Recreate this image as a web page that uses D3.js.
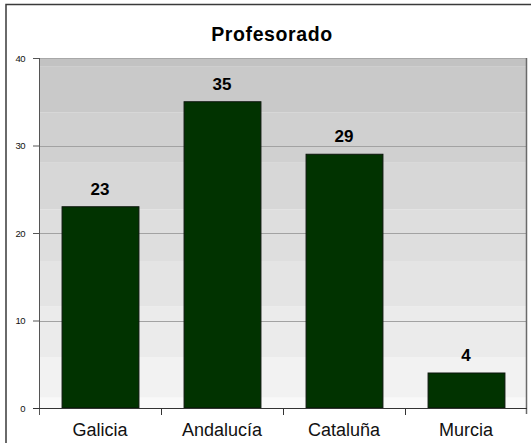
<!DOCTYPE html>
<html>
<head>
<meta charset="utf-8">
<script src="https://cdn.jsdelivr.net/npm/d3@7"></script>
<style>
  body { margin: 0; background: #fff; }
  text { font-family: "Liberation Sans", Arial, sans-serif; }
</style>
</head>
<body>
<div id="chart"></div>
<script>
// Chart data
const title = "Profesorado";
const categories = ["Galicia", "Andalucía", "Cataluña", "Murcia"];
const values = [23, 35, 29, 4];
const yTicks = [0, 10, 20, 30, 40];

// Background shading steps (value breaks, bottom to top)
const shadeBreaks = [0, 1.2, 5.8, 11.6, 16.8, 22.7, 28.1, 33.8, 39, 40];

const W = 531, H = 443;
const margin = {top: 58, right: 4, bottom: 35, left: 39};
const width = W - margin.left - margin.right;
const height = H - margin.top - margin.bottom;

const svg = d3.select("#chart")
    .append("svg")
    .attr("width", W)
    .attr("height", H);

// Outer frame (runs off the right and bottom edges)
svg.append("rect")
    .attr("x", 6)
    .attr("y", 4.5)
    .attr("width", 600)
    .attr("height", 600)
    .attr("fill", "none")
    .attr("stroke", "#3a3a3a")
    .attr("stroke-width", 1.5);

// Title
svg.append("text")
    .attr("x", 272)
    .attr("y", 41)
    .attr("text-anchor", "middle")
    .attr("font-size", 19.5)
    .attr("font-weight", "bold")
    .attr("letter-spacing", 0.6)
    .text(title);

const g = svg.append("g")
    .attr("transform", `translate(${margin.left},${margin.top})`);

// Scales
const x = d3.scaleBand()
    .domain(categories)
    .range([0, width])
    .paddingInner(0.37)
    .paddingOuter(0.185);

const y = d3.scaleLinear()
    .domain([0, 40])
    .range([height, 0]);

// Shaded background bands
const shade = d3.scaleLinear()
    .domain([0, shadeBreaks.length - 2])
    .range(["#f9f9f9", "#c2c2c2"]);

g.selectAll("rect.band")
    .data(d3.pairs(shadeBreaks))
    .enter().append("rect")
    .attr("class", "band")
    .attr("x", 0)
    .attr("width", width)
    .attr("y", d => y(d[1]))
    .attr("height", d => y(d[0]) - y(d[1]))
    .attr("fill", (d, i) => shade(i));

// Gridlines
g.selectAll("line.grid")
    .data(yTicks.filter(t => t > 0 && t < 40))
    .enter().append("line")
    .attr("class", "grid")
    .attr("x1", 0)
    .attr("x2", width)
    .attr("y1", d => Math.round(y(d)) + 0.5)
    .attr("y2", d => Math.round(y(d)) + 0.5)
    .attr("stroke", "#a2a2a2")
    .attr("stroke-width", 1);

// Plot frame: top and right edges
g.append("line")
    .attr("x1", 0).attr("x2", width)
    .attr("y1", 0.5).attr("y2", 0.5)
    .attr("stroke", "#a8a8a8");
g.append("line")
    .attr("x1", width - 0.5).attr("x2", width - 0.5)
    .attr("y1", 0).attr("y2", height + 6)
    .attr("stroke", "#6a6a6a")
    .attr("stroke-width", 1.5);

// Bars
g.selectAll("rect.bar")
    .data(values)
    .enter().append("rect")
    .attr("class", "bar")
    .attr("x", (d, i) => x(categories[i]) + 0.5)
    .attr("y", d => y(d))
    .attr("width", x.bandwidth())
    .attr("height", d => height - y(d))
    .attr("fill", "#013300")
    .attr("stroke", "#0b150b")
    .attr("stroke-width", 1);

// Value labels
g.selectAll("text.value")
    .data(values)
    .enter().append("text")
    .attr("class", "value")
    .attr("x", (d, i) => x(categories[i]) + x.bandwidth() / 2)
    .attr("y", d => y(d) - 12)
    .attr("text-anchor", "middle")
    .attr("font-size", 17)
    .attr("font-weight", "bold")
    .text(d => d);

// Y axis
const yAxis = g.append("g")
    .call(d3.axisLeft(y).tickValues(yTicks).tickSize(6).tickPadding(8));
yAxis.select(".domain")
    .attr("stroke", "#555")
    .attr("d", `M0.5,0V${height + 7}`);
yAxis.selectAll(".tick line").attr("stroke", "#555");
yAxis.selectAll(".tick text")
    .attr("font-size", 9.5)
    .attr("letter-spacing", -0.5)
    .attr("fill", "#111");

// X axis
const xAxis = g.append("g")
    .attr("transform", `translate(0,${height})`)
    .call(d3.axisBottom(x).tickSize(0).tickPadding(15));
xAxis.select(".domain")
    .attr("stroke", "#333")
    .attr("d", `M-6,0.5H${width}`);
xAxis.selectAll(".tick text")
    .attr("font-size", 18)
    .attr("fill", "#111");

// Category separator ticks
g.selectAll("line.sep")
    .data(categories.slice(1))
    .enter().append("line")
    .attr("class", "sep")
    .attr("x1", d => Math.round(x(d) - x.step() * x.paddingInner() / 2) + 0.5)
    .attr("x2", d => Math.round(x(d) - x.step() * x.paddingInner() / 2) + 0.5)
    .attr("y1", height)
    .attr("y2", height + 7)
    .attr("stroke", "#333");
</script>
</body>
</html>
